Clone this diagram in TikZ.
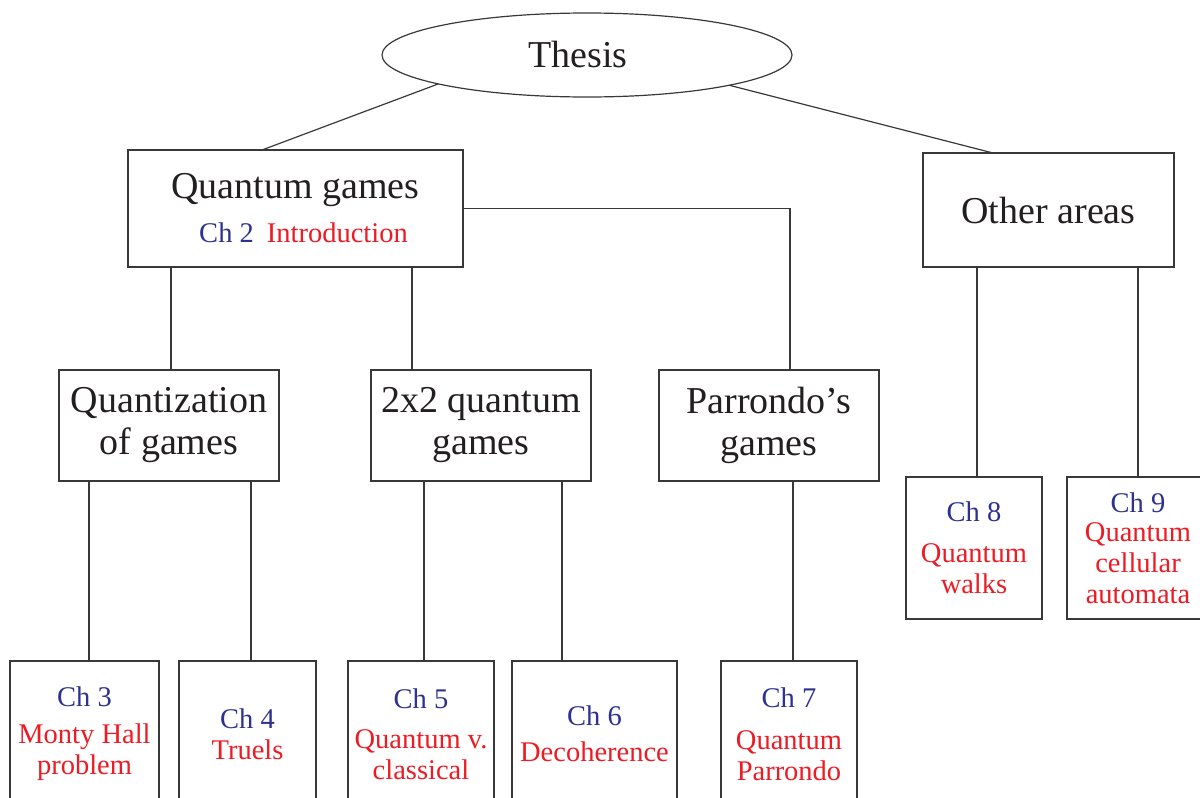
\documentclass[tikz,border=0pt]{standalone}
\usepackage{fontspec}
\setmainfont{Liberation Serif}
\usetikzlibrary{shapes.geometric}
\definecolor{inkblack}{HTML}{231F20}
\definecolor{chapblue}{HTML}{2E3192}
\definecolor{chapred}{HTML}{ED1C24}
\definecolor{boxline}{HTML}{383838}
\newcommand{\headtext}{\fontsize{38}{42}\selectfont}
\newcommand{\chaptext}{\fontsize{28.5}{31}\selectfont}

\begin{document}
\begin{tikzpicture}[x=1pt,y=-1pt,
  topicbox/.style={draw=boxline,fill=white,line width=1.2pt,inner sep=0pt,outer sep=0pt,align=center,text=inkblack,font=\headtext},
  chapbox/.style={draw=boxline,fill=white,line width=1.2pt,inner sep=0pt,outer sep=0pt,align=center,text=chapred,font=\chaptext},
  link/.style={line width=1.2pt,color=boxline}]
\clip (0,0) rectangle (1200,798);

\node[ellipse,draw=boxline,line width=1.2pt,inner sep=0pt,outer sep=0pt,minimum width=410pt,minimum height=84pt,font=\headtext,text=inkblack] (thesis) at (587,55) {Thesis\hspace*{18pt}};

\node[topicbox,minimum width=335pt,minimum height=117pt] (qg) at (295.5,208.5) {Quantum games\\[2pt]{\chaptext\hspace*{16pt}\textcolor{chapblue}{Ch 2}\hspace{13pt}\textcolor{chapred}{Introduction}}};
\node[topicbox,minimum width=251pt,minimum height=114pt] (other) at (1048.5,210) {Other areas};

\node[topicbox,minimum width=220pt,minimum height=111pt] (quant) at (169,425.5) {Quantization\\of games};
\node[topicbox,minimum width=220pt,minimum height=111pt] (twobytwo) at (481,425.5) {2x2 quantum\\games};
\node[topicbox,minimum width=220pt,minimum height=111pt] (parr) at (769,425.5) {Parrondo's\\games};

\node[chapbox,minimum width=149pt,minimum height=146pt] (c3) at (84.5,734) {\textcolor{chapblue}{Ch 3}\\[6pt]Monty Hall\\problem};
\node[chapbox,minimum width=137pt,minimum height=146pt] (c4) at (247.5,734) {\textcolor{chapblue}{Ch 4}\\Truels};
\node[chapbox,minimum width=146pt,minimum height=146pt] (c5) at (421,734) {\textcolor{chapblue}{Ch 5}\\[9pt]Quantum v.\\classical};
\node[chapbox,minimum width=165pt,minimum height=146pt] (c6) at (594.5,734) {\textcolor{chapblue}{Ch 6}\\[5pt]Decoherence};
\node[chapbox,minimum width=136pt,minimum height=146pt] (c7) at (789,734) {\textcolor{chapblue}{Ch 7}\\[11pt]Quantum\\Parrondo};
\node[chapbox,minimum width=136pt,minimum height=142pt] (c8) at (974,548) {\textcolor{chapblue}{Ch 8}\\[10pt]Quantum\\walks};
\node[chapbox,minimum width=142pt,minimum height=142pt] (c9) at (1138,548) {\textcolor{chapblue}{Ch 9}\\[-2pt]Quantum\\cellular\\automata};

\draw[link] (thesis.191) -- ([xshift=-33.5pt]qg.north);
\draw[link] (thesis.348) -- ([xshift=-55.5pt]other.north);
\draw[link] (qg.east) -| ([xshift=21pt]parr.north);
\draw[link] ([xshift=2pt]quant.north) -- ([xshift=2pt]quant.north |- qg.south);
\draw[link] ([xshift=-69pt]twobytwo.north) -- ([xshift=-69pt]twobytwo.north |- qg.south);
\draw[link] ([xshift=3pt]c8.north) -- ([xshift=3pt]c8.north |- other.south);
\draw[link] (c9.north) -- (c9.north |- other.south);
\draw[link] ([xshift=4.5pt]c3.north) -- ([xshift=4.5pt]c3.north |- quant.south);
\draw[link] ([xshift=3.5pt]c4.north) -- ([xshift=3.5pt]c4.north |- quant.south);
\draw[link] ([xshift=3pt]c5.north) -- ([xshift=3pt]c5.north |- twobytwo.south);
\draw[link] ([xshift=-32.5pt]c6.north) -- ([xshift=-32.5pt]c6.north |- twobytwo.south);
\draw[link] ([xshift=4pt]c7.north) -- ([xshift=4pt]c7.north |- parr.south);
\end{tikzpicture}
\end{document}
